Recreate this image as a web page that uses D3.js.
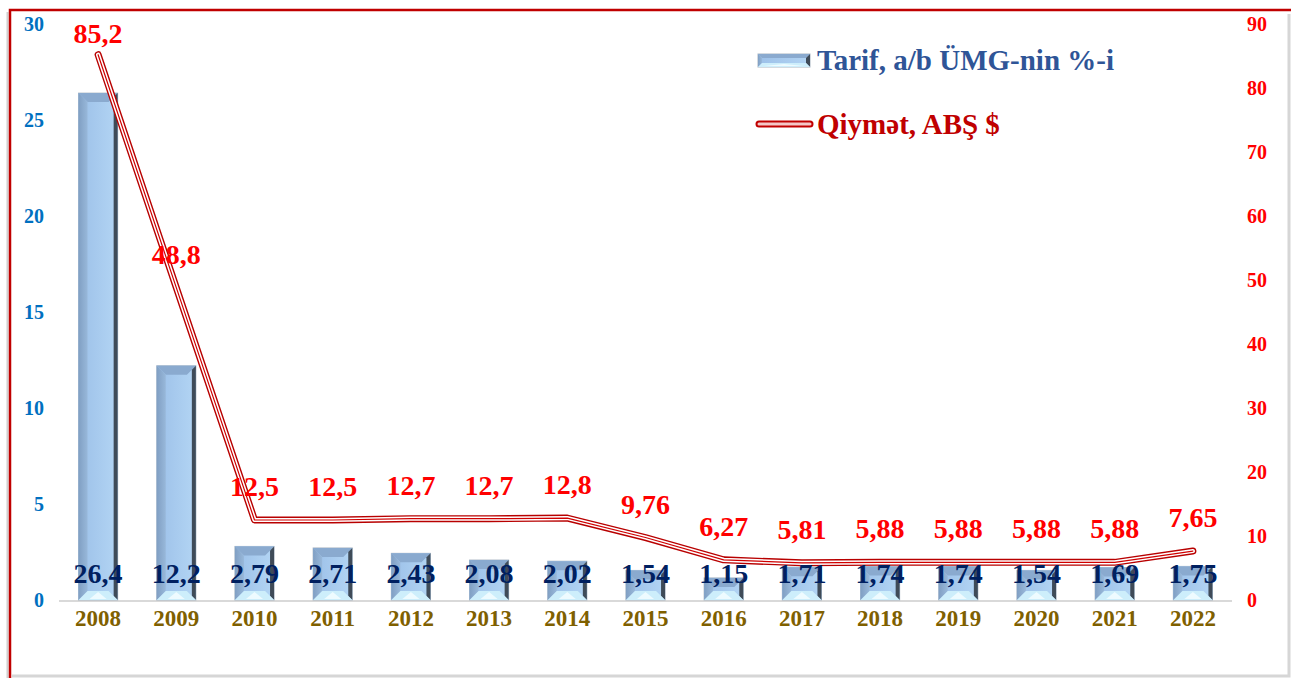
<!DOCTYPE html>
<meta charset="utf-8">
<script src="https://d3js.org/d3.v7.min.js"></script>
<style>
  body { margin: 0; background: #fff; }
  text { font-family: "Liberation Serif", "Times New Roman", serif; font-weight: bold; }
</style>
<div id="my_dataviz"></div>
<script>

// data
var years = ["2008", "2009", "2010", "2011", "2012", "2013", "2014", "2015", "2016", "2017", "2018", "2019", "2020", "2021", "2022"];
var tarif = [26.4, 12.2, 2.79, 2.71, 2.43, 2.08, 2.02, 1.54, 1.15, 1.71, 1.74, 1.74, 1.54, 1.69, 1.75];
var price = [85.2, 48.8, 12.5, 12.5, 12.7, 12.7, 12.8, 9.76, 6.27, 5.81, 5.88, 5.88, 5.88, 5.88, 7.65];
var leftTicks = [0, 5, 10, 15, 20, 25, 30];
var rightTicks = [0, 10, 20, 30, 40, 50, 60, 70, 80, 90];
var legendNames = ["Tarif, a/b ÜMG-nin %-i", "Qiymət, ABŞ $"];

var W = 1291, H = 678;
var plot = {left: 59, right: 1232, top: 24, bottom: 600};

var svg = d3.select("#my_dataviz")
  .append("svg")
  .attr("width", W)
  .attr("height", H);

var defs = svg.append("defs");
var g1 = defs.append("linearGradient").attr("id", "barFace");
g1.append("stop").attr("offset", "0%").attr("stop-color", "#9cc0e8");
g1.append("stop").attr("offset", "100%").attr("stop-color", "#b3d5f4");
var g2 = defs.append("linearGradient").attr("id", "barLeft");
g2.append("stop").attr("offset", "0%").attr("stop-color", "#809fc3");
g2.append("stop").attr("offset", "100%").attr("stop-color", "#98b8da");

// frame
svg.append("path")
  .attr("d", "M12,676 L1289,676 L1289,14")
  .attr("fill", "none").attr("stroke", "#d6d6d6").attr("stroke-width", 3);
svg.append("line").attr("x1", 7.5).attr("x2", 7.5).attr("y1", 12).attr("y2", H)
  .attr("stroke", "#d0d0d0").attr("stroke-width", 2);
svg.append("path")
  .attr("d", "M10,678 L10,10 L1291,10")
  .attr("fill", "none").attr("stroke", "#c00000").attr("stroke-width", 2.5);

var x = d3.scaleBand()
  .domain(years)
  .range([plot.left, plot.right])
  .paddingInner(0.5)
  .paddingOuter(0.25);

var y = d3.scaleLinear().domain([0, 30]).range([plot.bottom, plot.top]);
var y2 = d3.scaleLinear().domain([0, 90]).range([plot.bottom, plot.top]);

// left axis
var axL = svg.append("g")
  .attr("transform", "translate(44,0)")
  .call(d3.axisLeft(y).tickValues(leftTicks).tickSize(0).tickPadding(0));
axL.select(".domain").remove();
axL.selectAll("text")
  .style("font-family", "Liberation Serif").style("font-weight", "bold")
  .style("font-size", "20px").attr("fill", "#0070c0");

// right axis
var axR = svg.append("g")
  .attr("transform", "translate(1247,0)")
  .call(d3.axisRight(y2).tickValues(rightTicks).tickSize(0).tickPadding(0));
axR.select(".domain").remove();
axR.selectAll("text")
  .style("font-family", "Liberation Serif").style("font-weight", "bold")
  .style("font-size", "20px").attr("fill", "#ff0000");

// baseline
svg.append("line")
  .attr("x1", plot.left).attr("x2", plot.right)
  .attr("y1", y(0) + 1).attr("y2", y(0) + 1)
  .attr("stroke", "#d9d9d9").attr("stroke-width", 2);

// x labels
var axB = svg.append("g")
  .attr("transform", "translate(0," + (y(0) + 10) + ")")
  .call(d3.axisBottom(x).tickSize(0).tickPadding(0));
axB.select(".domain").remove();
axB.selectAll("text")
  .style("font-family", "Liberation Serif").style("font-weight", "bold")
  .style("font-size", "23px").attr("fill", "#7f6000");

// bevelled bar
function bevel(sel, x0, y0, w, h, bsz) {
  var x1 = x0 + w, y1 = y0 + h;
  var b = Math.min(bsz, w / 2, h / 2);
  var br = Math.min(4, b);
  function poly(pts, fill) {
    sel.append("polygon").attr("points", pts.map(function(p) { return p.join(","); }).join(" ")).attr("fill", fill);
  }
  sel.append("rect").attr("x", x0 - 0.5).attr("y", y0 - 0.5).attr("width", w + 1).attr("height", h + 1).attr("fill", "#a9b5c1");
  sel.append("rect").attr("x", x0).attr("y", y0).attr("width", w).attr("height", h).attr("fill", "url(#barFace)");
  poly([[x0, y0], [x1, y0], [x1 - b, y0 + b], [x0 + b, y0 + b]], "#8aaacf");
  poly([[x0, y0], [x0 + b, y0 + b], [x0 + b, y1 - b], [x0, y1]], "url(#barLeft)");
  poly([[x1, y0], [x1, y1], [x1 - br, y1 - br], [x1 - br, y0 + br]], "#3f4b58");
  poly([[x0, y1], [x0 + b, y1 - b], [x1 - b, y1 - b], [x1, y1]], "#cdeefb");
  poly([[x0 + b + 2, y1 - 1], [(x0 + x1) / 2, y1 - b + 1], [x1 - b - 2, y1 - 1]], "#eefbff");
}

var bars = svg.append("g");
years.forEach(function(yr, i) {
  var gb = bars.append("g");
  bevel(gb, x(yr), y(tarif[i]), x.bandwidth(), y(0) - y(tarif[i]), 9);
});

// line
var line = d3.line()
  .x(function(d, i) { return x(years[i]) + x.bandwidth() / 2; })
  .y(function(d) { return y2(d); });

var lg = svg.append("g");
lg.append("path").datum(price).attr("d", line).attr("fill", "none")
  .attr("stroke", "#b80000").attr("stroke-width", 7).attr("stroke-linecap", "round").attr("stroke-linejoin", "round");
lg.append("path").datum(price).attr("d", line).attr("fill", "none")
  .attr("stroke", "#fff").attr("stroke-width", 4.2).attr("stroke-linecap", "round").attr("stroke-linejoin", "round");
lg.append("path").datum(price).attr("d", line).attr("fill", "none")
  .attr("stroke", "#d00000").attr("stroke-width", 1.2).attr("stroke-linecap", "round").attr("stroke-linejoin", "round");

function fmt(v) { return String(v).replace(".", ","); }

// bar labels (inside base)
svg.append("g").selectAll("text")
  .data(tarif).enter().append("text")
  .attr("x", function(d, i) { return x(years[i]) + x.bandwidth() / 2; })
  .attr("y", y(0) - 17)
  .attr("text-anchor", "middle")
  .attr("font-size", "28px")
  .attr("fill", "#002060")
  .text(fmt);

// line labels (above)
svg.append("g").selectAll("text")
  .data(price).enter().append("text")
  .attr("x", function(d, i) { return x(years[i]) + x.bandwidth() / 2; })
  .attr("y", function(d) { return Math.max(43, y2(d) - 24); })
  .attr("text-anchor", "middle")
  .attr("font-size", "28px")
  .attr("fill", "#ff0000")
  .text(fmt);

// legend
var leg = svg.append("g");
bevel(leg, 758, 54, 52, 13, 4);
leg.append("text").attr("x", 817).attr("y", 70).attr("font-size", "29px").attr("fill", "#2f5597").text(legendNames[0]);
leg.append("line").attr("x1", 759).attr("x2", 810).attr("y1", 124).attr("y2", 124)
  .attr("stroke", "#c00000").attr("stroke-width", 7).attr("stroke-linecap", "round");
leg.append("line").attr("x1", 759).attr("x2", 810).attr("y1", 124).attr("y2", 124)
  .attr("stroke", "#f4c7c7").attr("stroke-width", 3).attr("stroke-linecap", "round");
leg.append("text").attr("x", 817).attr("y", 134).attr("font-size", "29px").attr("fill", "#c00000").text(legendNames[1]);

</script>
